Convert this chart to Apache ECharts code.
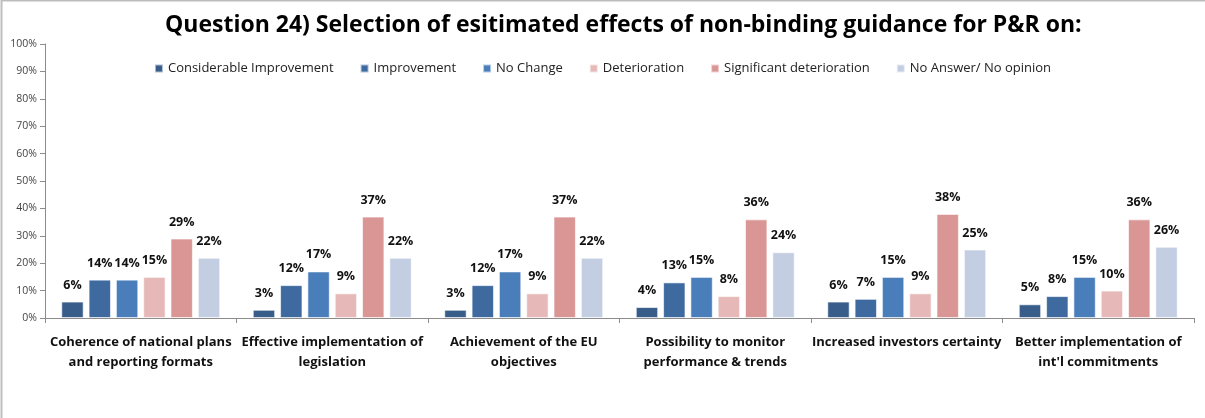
<!DOCTYPE html>
<html>
<head>
<meta charset="utf-8">
<script src="https://cdn.jsdelivr.net/npm/echarts@6/dist/echarts.min.js"></script>
<style>
  html, body { margin: 0; padding: 0; background: #fff; }
  #chart { width: 1205px; height: 418px; }
</style>
</head>
<body>
<div id="chart"></div>
<script>
// categories on the x axis
const categories = [
  'Coherence of national plans\nand reporting formats',
  'Effective implementation of\nlegislation',
  'Achievement of the EU\nobjectives',
  'Possibility to monitor\nperformance & trends',
  'Increased investors certainty',
  'Better implementation of\nint\'l commitments'
];
const seriesNames = [
  'Considerable Improvement',
  'Improvement',
  'No Change',
  'Deterioration',
  'Significant deterioration',
  'No Answer/ No opinion'
];
// values in %
const considerable = [6, 3, 3, 4, 6, 5];
const improvement = [14, 12, 12, 13, 7, 8];
const noChange = [14, 17, 17, 15, 15, 15];
const deterioration = [15, 9, 9, 8, 9, 10];
const significant = [29, 37, 37, 36, 38, 36];
const noAnswer = [22, 22, 22, 24, 25, 26];
const yTicks = [0, 10, 20, 30, 40, 50, 60, 70, 80, 90, 100];

const colors = ['#385D8A', '#3E6A9F', '#4A7EBB', '#E6B9B8', '#D99694', '#C3CEE3'];
const values = [considerable, improvement, noChange, deterioration, significant, noAnswer];

const chart = echarts.init(document.getElementById('chart'));
chart.setOption({
  animation: false,
  textStyle: { fontFamily: 'Open Sans' },
  title: {
    text: 'Question 24) Selection of esitimated effects of non-binding guidance for P&R on:',
    left: 160, top: 9,
    textStyle: { fontSize: 23, fontWeight: 'bold', color: '#000', fontFamily: 'Open Sans' }
  },
  graphic: [{
    type: 'rect', shape: { x: 1.5, y: 0.5, width: 1240, height: 460 },
    style: { fill: 'none', stroke: '#BDBDBD', lineWidth: 2 }, silent: true
  }],
  legend: {
    top: 57, left: 'center',
    itemWidth: 8, itemHeight: 8, itemGap: 26,
    icon: 'rect',
    textStyle: { fontSize: 13, color: '#222' },
    data: seriesNames
  },
  grid: { left: 45, right: 11, top: 44, bottom: 100 },
  xAxis: {
    type: 'category',
    data: categories,
    axisLine: { lineStyle: { color: '#8C8C8C' } },
    axisTick: { show: true, length: 5, lineStyle: { color: '#8C8C8C' } },
    axisLabel: { fontSize: 13, fontWeight: 'bold', color: '#111', margin: 14, lineHeight: 20, interval: 0 }
  },
  yAxis: {
    type: 'value', min: yTicks[0], max: yTicks[yTicks.length - 1], interval: 10,
    splitLine: { show: false },
    axisLine: { show: true, lineStyle: { color: '#8C8C8C' } },
    axisTick: { show: true, length: 5, lineStyle: { color: '#8C8C8C' } },
    axisLabel: { formatter: '{value}%', fontSize: 10.5, color: '#444', margin: 8 }
  },
  series: seriesNames.map((name, i) => ({
    name: name,
    type: 'bar',
    data: values[i],
    barGap: '22%',
    barCategoryGap: '17%',
    itemStyle: { color: colors[i], borderColor: 'rgba(255,255,255,0.6)', borderWidth: 1 },
    label: {
      show: true, position: 'top', distance: 10,
      formatter: '{c}%', fontSize: 12.5, fontWeight: 'bold', color: '#111'
    }
  }))
});
</script>
</body>
</html>
